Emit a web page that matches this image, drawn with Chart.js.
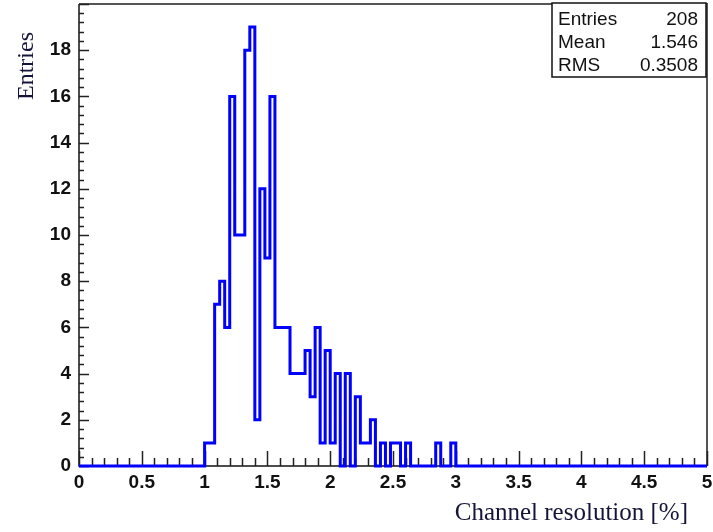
<!DOCTYPE html>
<html>
<head>
<meta charset="utf-8">
<script src="https://cdn.jsdelivr.net/npm/chart.js@4.4.1/dist/chart.umd.min.js"></script>
<style>
  body { margin: 0; background: #fff; }
  #wrap { position: relative; width: 713px; height: 532px; }
</style>
</head>
<body>
<div id="wrap"><canvas id="myChart"></canvas></div>
<script>
// histogram binning
const xMin = 0;
const xMax = 5;
const binWidth = 0.04;
const firstEdge = 1.0; // lower edge of the first listed bin

// counts per bin, starting at firstEdge (all other bins are empty)
const counts = [
    1, 1, 7, 8, 6, 16, 10, 10, 18, 19,
    2, 12, 9, 16, 6, 6, 6, 4, 4, 4,
    5, 3, 6, 1, 5, 1, 4, 0, 4, 0,
    3, 1, 1, 2, 0, 1, 0, 1, 1, 0,
    1, 0, 0, 0, 0, 0, 1, 0, 0, 1
];

const yMax = 20;
const xTickValues = [0, 0.5, 1, 1.5, 2, 2.5, 3, 3.5, 4, 4.5, 5];
const yTickValues = [0, 2, 4, 6, 8, 10, 12, 14, 16, 18];

const statsLabels = ['Entries', 'Mean', 'RMS'];
const statsValues = ['208', '1.546', '0.3508'];

const xTitle = 'Channel resolution [%]';
const yTitle = 'Entries';

// step points at bin lower edges
const nBins = Math.round((xMax - xMin) / binWidth);
const firstIndex = Math.round((firstEdge - xMin) / binWidth);
const points = [];
for (let i = 0; i < nBins; i++) {
    const c = counts[i - firstIndex];
    points.push({x: +(xMin + i * binWidth).toFixed(2), y: c === undefined ? 0 : c});
}
points.push({x: xMax, y: 0});

const tickFont = {family: "'Liberation Sans', Arial, sans-serif", size: 19, weight: 'bold'};

const noPad = s => { s.paddingTop = 0; s.paddingBottom = 0; s.paddingLeft = 0; s.paddingRight = 0; };

// ROOT-like frame, inward ticks, titles and stats box
const rootStyle = {
    id: 'rootStyle',
    beforeDatasetsDraw(chart) {
        const {ctx, chartArea: a, scales: {x, y}} = chart;
        ctx.save();
        // frame
        ctx.strokeStyle = '#555';
        ctx.lineWidth = 2;
        ctx.beginPath();
        ctx.moveTo(a.left, a.top);
        ctx.lineTo(a.right, a.top);
        ctx.lineTo(a.right, a.bottom);
        ctx.stroke();
        ctx.strokeStyle = '#111';
        ctx.lineWidth = 1.5;
        ctx.beginPath();
        ctx.moveTo(a.left, a.top);
        ctx.lineTo(a.left, a.bottom);
        ctx.lineTo(a.right, a.bottom);
        ctx.stroke();
        // x ticks (every 0.1, major every 0.5)
        ctx.strokeStyle = '#222';
        ctx.lineWidth = 1.5;
        ctx.beginPath();
        for (let k = 0; k <= 50; k++) {
            const px = Math.round(x.getPixelForValue(k / 10)) + 0.5;
            const len = k % 5 === 0 ? 15 : 8;
            ctx.moveTo(px, a.bottom);
            ctx.lineTo(px, a.bottom - len);
        }
        // y ticks (every 0.4, major every 2)
        for (let k = 0; k * 0.4 <= yMax + 1e-9; k++) {
            const py = Math.round(y.getPixelForValue(k * 0.4)) + 0.5;
            const len = k % 5 === 0 ? 10 : 5;
            ctx.moveTo(a.left, py);
            ctx.lineTo(a.left + len, py);
        }
        ctx.stroke();
        ctx.restore();
    },
    afterDraw(chart) {
        const {ctx} = chart;
        ctx.save();
        // axis titles
        ctx.fillStyle = '#14143a';
        ctx.font = "24px 'Liberation Serif', 'Times New Roman', serif";
        ctx.textAlign = 'center';
        ctx.textBaseline = 'alphabetic';
        ctx.translate(33, 66);
        ctx.rotate(-Math.PI / 2);
        ctx.fillText(yTitle, 0, 0);
        ctx.setTransform(1, 0, 0, 1, 0, 0);
        ctx.font = "25px 'Liberation Serif', 'Times New Roman', serif";
        ctx.textAlign = 'right';
        ctx.fillText(xTitle, 688, 520);

        // stats box
        const bx = 552, by = 3, bw = 154, bh = 74;
        ctx.fillStyle = '#fff';
        ctx.fillRect(bx, by, bw, bh);
        ctx.strokeStyle = '#111';
        ctx.lineWidth = 1.5;
        ctx.strokeRect(bx, by, bw, bh);
        ctx.fillStyle = '#111';
        ctx.font = "19px 'Liberation Sans', Arial, sans-serif";
        statsLabels.forEach((lab, i) => {
            const base = 25 + i * 23;
            ctx.textAlign = 'left';
            ctx.fillText(lab, 558, base);
            ctx.textAlign = 'right';
            ctx.fillText(statsValues[i], 698, base);
        });
        ctx.restore();
    }
};

const ctx = document.querySelector('#myChart').getContext('2d');

const myChart = new Chart(ctx, {
    type: 'line',
    data: {
        datasets: [{
            label: 'Entries',
            data: points,
            stepped: 'before',
            borderColor: '#0000ff',
            borderWidth: 3,
            pointRadius: 0,
            fill: false,
            clip: false
        }]
    },
    options: {
        responsive: true,
        maintainAspectRatio: false,
        devicePixelRatio: 1,
        animation: false,
        layout: {padding: {top: 4, right: 6, left: 0, bottom: 0}},
        plugins: {
            legend: {display: false},
            tooltip: {enabled: false}
        },
        scales: {
            x: {
                type: 'linear',
                min: xMin,
                max: xMax,
                grid: {display: false, drawTicks: false},
                border: {display: false},
                afterBuildTicks: s => { s.ticks = xTickValues.map(v => ({value: v})); },
                afterFit: s => { s.height = 66; noPad(s); },
                ticks: {
                    color: '#111',
                    font: tickFont,
                    padding: 5,
                    maxRotation: 0,
                    autoSkip: false,
                    callback: v => String(v)
                }
            },
            y: {
                type: 'linear',
                min: 0,
                max: yMax,
                grid: {display: false, drawTicks: false},
                border: {display: false},
                afterBuildTicks: s => { s.ticks = yTickValues.map(v => ({value: v})); },
                afterFit: s => { s.width = 79; noPad(s); },
                ticks: {
                    color: '#111',
                    font: tickFont,
                    padding: 8,
                    autoSkip: false,
                    callback: v => String(v)
                }
            }
        }
    },
    plugins: [rootStyle]
});
</script>
</body>
</html>
